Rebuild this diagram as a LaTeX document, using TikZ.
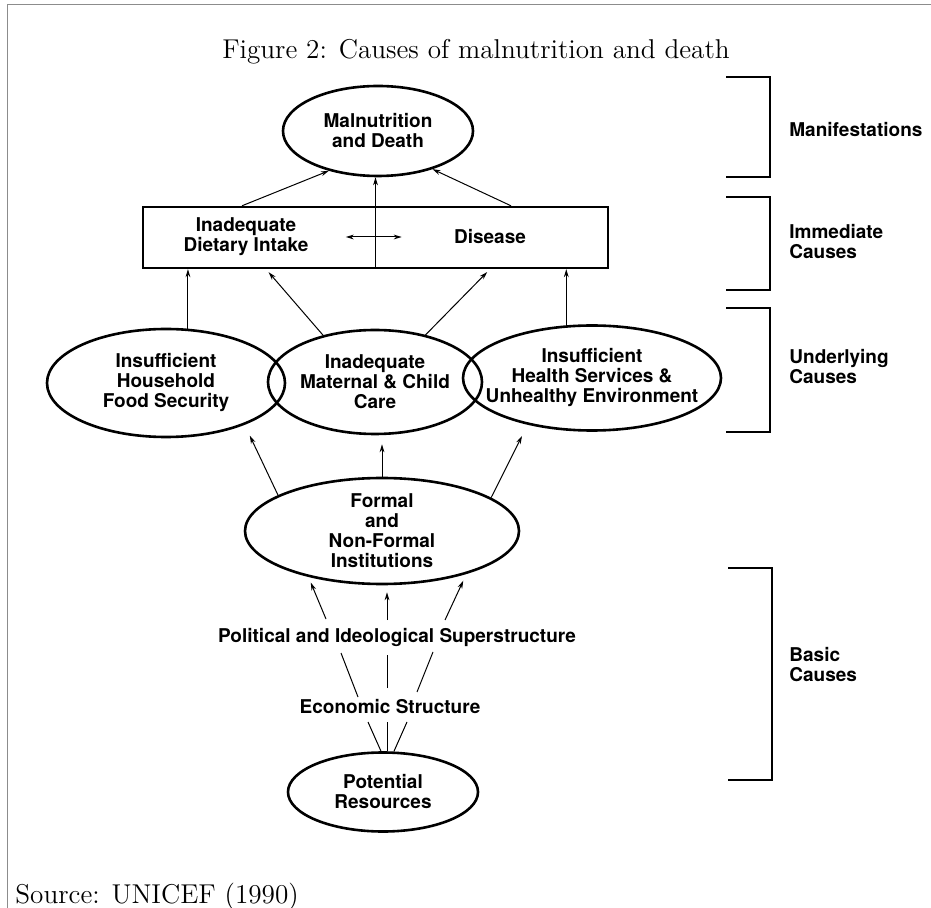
\documentclass[tikz,border=0pt]{standalone}
\usepackage{fontspec}
\newfontfamily\unifont{TeX Gyre Heros}
\usepackage{tikz}
\usetikzlibrary{shapes.geometric}
\usetikzlibrary{arrows.meta}

\tikzset{
  cause/.style={ellipse, draw, line width=1.3pt, inner sep=0pt},
  txt/.style={font=\unifont\bfseries\fontsize{9.5}{10}\selectfont, align=center, inner sep=1pt},
  lvl/.style={txt, align=left, anchor=west},
  arr/.style={line width=0.5pt, -{Stealth[length=4pt,width=2.4pt]}},
  dbl/.style={line width=0.5pt, {Stealth[length=4pt,width=2.4pt]}-{Stealth[length=4pt,width=2.4pt]}},
  link/.style={line width=0.5pt},
  brk/.style={line width=0.8pt},
}

\begin{document}
\begin{tikzpicture}[x=0.5pt,y=-0.5pt]
  % Define the page (pixel units, y going down)
  \def\capFont{\fontsize{13.6}{16}\selectfont}
  \useasboundingbox (0,0) rectangle (931,908);
  \draw[black!45, line width=0.5pt] (7,908) -- (7,5) -- (931,5);

  \node[font=\capFont] (title) at (476,52) {Figure 2: Causes of malnutrition and death};
  \node[anchor=base west, font=\capFont, inner sep=0pt] (source) at (15,903) {Source: UNICEF (1990)};

  % manifestations
  \node[cause, minimum width=95pt, minimum height=45pt, label={[txt]center:{Malnutrition\\and Death}}] (mal) at (378,131) {};

  % immediate causes (one box, split in two)
  \node[draw, line width=1.2pt, minimum width=232.5pt, minimum height=30.5pt, inner sep=0pt] (diet) at (375.5,237.5) {};
  \draw[link] (diet.north) -- (diet.south);
  \node[txt] (intake) at (246,237) {Inadequate\\Dietary Intake};
  \node[txt] (disease) at (490,237) {Disease};
  \draw[dbl, shorten <=17.5pt, shorten >=25pt] (intake) -- (disease);

  % underlying causes
  \node[cause, minimum width=119pt, minimum height=54pt, label={[txt]center:{Insufficient\\Household\\Food Security}}] (food) at (166,383) {};
  \node[cause, minimum width=107pt, minimum height=52pt, label={[txt]center:{Inadequate\\Maternal \& Child\\Care}}] (care) at (375,382) {};
  \node[cause, minimum width=129pt, minimum height=52.5pt, label={[txt]center:{Insufficient\\Health Services \&\\Unhealthy Environment}}] (health) at (592,378) {};

  % basic causes
  \node[cause, minimum width=137pt, minimum height=53pt, label={[txt]center:{Formal\\and\\Non-Formal\\Institutions}}] (inst) at (382,531) {};
  \node[txt] (pol) at (397,637) {Political and Ideological Superstructure};
  \node[txt] (econ) at (390,707) {Economic Structure};
  \node[cause, minimum width=95pt, minimum height=39.5pt, label={[txt]center:{Potential\\Resources}}] (res) at (383,792) {};

  % arrows up to the manifestations
  \draw[arr] ([shift={(-133.5,0)}]diet.north) -- (mal.219);
  \draw[arr] (diet.north) -- (diet.north |- mal.south);
  \draw[arr] ([shift={(135.5,0)}]diet.north) -- (mal.325);

  % arrows up to the immediate causes
  \draw[arr] (food.68) -- (food.68 |- diet.south);
  \draw[arr, shorten >=2pt] (care.138) -- ([shift={(-109.5,0)}]diet.south);
  \draw[arr, shorten >=2pt] (care.43) -- ([shift={(114.5,0)}]diet.south);
  \draw[arr] (health.116) -- (health.116 |- diet.south);

  % arrows up to the underlying causes
  \draw[arr, shorten >=6pt] (inst.161) -- (food.332);
  \draw[arr, shorten >=4.5pt] (inst.north) -- (inst.north |- care.south);
  \draw[arr, shorten >=6.3pt] (inst.17) -- (health.216);

  % the fan from the resources up to the institutions
  \draw[arr, shorten >=3pt] ([shift={(-71,-18)}]pol.center) -- (inst.212);
  \draw[arr, shorten >=3.5pt] ([shift={(-10,-17)}]pol.center) -- ([xshift=2.5pt]inst.south);
  \draw[arr, shorten >=3.7pt] ([shift={(48,-17)}]pol.center) -- (inst.333);

  \draw[link] ([shift={(-32,-10)}]econ.center) -- ([shift={(-56,16)}]pol.center);
  \draw[link] ([shift={(-3,-19)}]econ.center) -- ([shift={(-10,18)}]pol.center);
  \draw[link] ([shift={(27,-15)}]econ.center) -- ([shift={(36,15)}]pol.center);

  \draw[link] ([xshift=-1pt]res.north) -- ([shift={(-22,15)}]econ.center);
  \draw[link] ([xshift=2pt]res.north) -- ([shift={(-3,15)}]econ.center);
  \draw[link] ([xshift=5.5pt]res.north) -- ([shift={(17,15)}]econ.center);

  % brackets for the levels
  \draw[brk] (726,77) -- (770,77) -- (770,177) -- (726,177);
  \draw[brk] (726,197) -- (770,197) -- (770,290) -- (726,290);
  \draw[brk] (726,308) -- (770,308) -- (770,432) -- (726,432);
  \draw[brk] (728,568) -- (772,568) -- (772,780) -- (728,780);

  \node[lvl] (manif) at (787,130) {Manifestations};
  \node[lvl] (immed) at (787,242) {Immediate\\Causes};
  \node[lvl] (under) at (787,367) {Underlying\\Causes};
  \node[lvl] (basic) at (787,665) {Basic\\Causes};

\end{tikzpicture}
\end{document}
